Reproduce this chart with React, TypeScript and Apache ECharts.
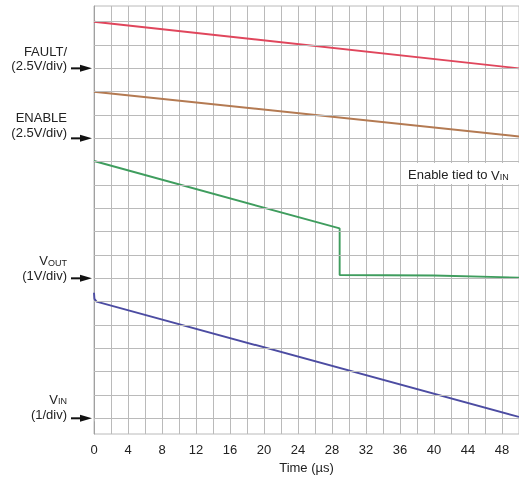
import { useEffect, useRef } from "react";
import * as echarts from "echarts";

// Time axis (µs)
const timeMin = 0;
const timeMax = 50;
const timeStep = 2;
const timeLabelStep = 4;

// Horizontal division lines (in divisions above the VIN ground)
const divisionLines = [0, 1, 2, 3, 4, 5, 6, 7, 8, 9, 10, 11, 12, 13, 14, 15, 16, 17];
const divMin = -0.673;
const divMax = 17.673;

// Channel settings: volts per division, ground level in divisions
const faultScale = 2.5;
const faultGround = 15;
const enableScale = 2.5;
const enableGround = 12;
const voutScale = 1;
const voutGround = 6;
const vinScale = 1;
const vinGround = 0;

// Traces (time in µs, value in volts)
const faultT = [0, 50];
const faultV = [5.0, 0.0];
const enableT = [0, 50];
const enableV = [5.0, 0.2];
const voutT = [0, 28.9, 28.9, 40, 50];
const voutV = [5.03, 2.14, 0.14, 0.12, 0.03];
const vinT = [0, 0.05, 0.3, 50];
const vinV = [5.38, 5.12, 5.0, 0.06];

const FONT = '"Liberation Sans", Arial, sans-serif';
const TEXT = "#222";
const FS = 13;

export default function App() {
  const ref = useRef<HTMLDivElement>(null);

  useEffect(() => {
    const chart = echarts.init(ref.current!, null, { renderer: "svg" });
    const toDiv = (t: number[], v: number[], scale: number, ground: number) =>
      t.map((x, i) => [x, ground + v[i] / scale]);

    const lineSeries = (name: string, data: number[][], color: string) => ({
      name,
      type: "line",
      data,
      symbol: "none",
      showSymbol: false,
      z: 3,
      lineStyle: { color, width: 1.9 },
      silent: true,
    });

    chart.setOption({
      animation: false,
      grid: {
        left: 94,
        right: 0,
        top: 6,
        bottom: 43,
        outerBoundsMode: "none",
        containLabel: false,
        show: true,
        borderColor: "#bababa",
        borderWidth: 1,
      },
      xAxis: {
        type: "value",
        min: timeMin,
        max: timeMax,
        interval: timeStep,
        name: "Time (µs)",
        nameLocation: "middle",
        nameGap: 26,
        nameTextStyle: { fontSize: FS, color: TEXT, fontFamily: FONT },
        axisLine: { show: false },
        axisTick: { show: true, length: 3, lineStyle: { color: "#bababa" } },
        axisLabel: {
          fontSize: FS,
          color: TEXT,
          fontFamily: FONT,
          margin: 9,
          formatter: (v: number) =>
            Math.abs(v / timeLabelStep - Math.round(v / timeLabelStep)) < 1e-6 && v < timeMax
              ? String(v)
              : "",
        },
        splitLine: { show: true, lineStyle: { color: "#bababa", width: 1 } },
      },
      yAxis: {
        type: "value",
        min: divMin,
        max: divMax,
        axisLine: { show: true, lineStyle: { color: "#a0a0a0", width: 1 } },
        axisTick: { show: false },
        axisLabel: { show: false },
        splitLine: { show: false },
      },
      series: [
        {
          name: "grid",
          type: "line",
          data: [],
          z: 1,
          silent: true,
          markLine: {
            silent: true,
            symbol: "none",
            label: { show: false },
            lineStyle: { color: "#bababa", width: 1, type: "solid" },
            data: divisionLines.map((d) => ({ yAxis: d })),
          },
        },
        lineSeries("FAULT", toDiv(faultT, faultV, faultScale, faultGround), "#e0465c"),
        lineSeries("ENABLE", toDiv(enableT, enableV, enableScale, enableGround), "#b47a52"),
        lineSeries("VOUT", toDiv(voutT, voutV, voutScale, voutGround), "#3f9d5e"),
        lineSeries("VIN", toDiv(vinT, vinV, vinScale, vinGround), "#4c4ca2"),
      ],
    });

    const py = (d: number) => chart.convertToPixel({ yAxisIndex: 0 }, d) as number;
    const richSub = {
      v: { fontSize: FS, fontFamily: FONT, fill: TEXT, color: TEXT, verticalAlign: "bottom", lineHeight: 14 },
      s: { fontSize: 9, fontFamily: FONT, fill: TEXT, color: TEXT, verticalAlign: "bottom", lineHeight: 10.5 },
    };
    const textEl = (text: string, x: number, y: number, align = "right") => {
      const style: any = {
        text,
        fill: TEXT,
        fontSize: FS,
        fontFamily: FONT,
        align,
        verticalAlign: "middle",
      };
      if (text.indexOf("{") >= 0) style.rich = richSub;
      return { type: "text", x, y, z: 10, style };
    };
    const arrow = (y: number) => [
      { type: "line", z: 10, shape: { x1: 71, y1: y, x2: 82, y2: y }, style: { stroke: "#111", lineWidth: 2 } },
      {
        type: "polygon",
        z: 10,
        shape: { points: [[80, y - 3.5], [92, y], [80, y + 3.5]] },
        style: { fill: "#111" },
      },
    ];
    const labels = [
      { lines: ["FAULT/", "(2.5V/div)"], offs: [-17, -2.5], ground: faultGround },
      { lines: ["ENABLE", "(2.5V/div)"], offs: [-20.5, -6], ground: enableGround },
      { lines: ["{v|V}{s|OUT}", "(1V/div)"], offs: [-18, -3], ground: voutGround },
      { lines: ["{v|V}{s|IN}", "(1/div)"], offs: [-19.5, -4], ground: vinGround },
    ];
    const graphic: any[] = [];
    labels.forEach((l) => {
      const y = py(l.ground);
      graphic.push(textEl(l.lines[0], 67, y + l.offs[0]));
      graphic.push(textEl(l.lines[1], 67, y + l.offs[1]));
      graphic.push(...arrow(y));
    });
    graphic.push({
      type: "rect",
      z: 9,
      shape: { x: 403, y: 163, width: 120, height: 21 },
      style: { fill: "#fff" },
    });
    graphic.push(textEl("Enable tied to {v|V}{s|IN}", 408, 174.5, "left"));
    chart.setOption({ graphic });

    return () => chart.dispose();
  }, []);

  return (
    <div
      ref={ref}
      style={{ position: "fixed", left: 0, top: 0, width: 519, height: 477 }}
    />
  );
}
